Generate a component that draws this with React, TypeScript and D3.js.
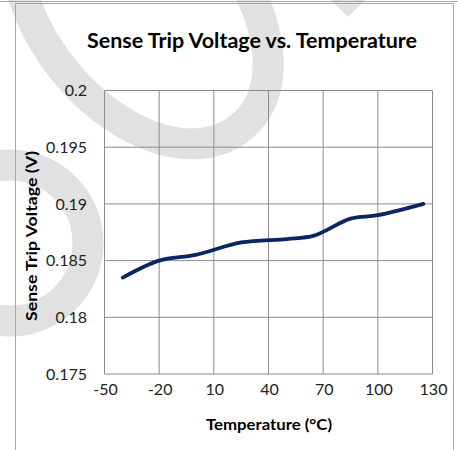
import React from 'react';
import {scaleLinear, line, curveCatmullRom} from 'd3';

// valeurs
const temperatures = [-40, -20, 0, 25, 50, 65, 85, 100, 125];
const tripVoltages = [0.1835, 0.185, 0.1855, 0.1866, 0.1869, 0.1872, 0.1887, 0.189, 0.19];

const xTicks = [-50, -20, 10, 40, 70, 100, 130];
const yTicks = [0.175, 0.18, 0.185, 0.19, 0.195, 0.2];
const yTickLabels = ['0.175', '0.18', '0.185', '0.19', '0.195', '0.2'];

const title = 'Sense Trip Voltage vs. Temperature';
const xTitle = 'Temperature (°C)';
const yTitle = 'Sense Trip Voltage (V)';

export default function App() {
  const width = 458;
  const height = 450;
  const plot = {left: 104.5, right: 432.5, top: 90.5, bottom: 374};

  const x = scaleLinear().domain([-50, 130]).range([plot.left, plot.right]);
  const y = scaleLinear().domain([0.175, 0.2]).range([plot.bottom, plot.top]);

  const points = temperatures.map((t, i) => [t, tripVoltages[i]] as [number, number]);
  const path = line<[number, number]>()
    .x(d => x(d[0]))
    .y(d => y(d[1]))
    .curve(curveCatmullRom.alpha(0.5))(points);

  const grid = '#8c8c8c';
  const font = 'Lato, "Open Sans", sans-serif';

  return (
    <div style={{position: 'absolute', left: 0, top: 0}}>
      <svg width={width} height={height} style={{display: 'block'}}>
        <rect width={width} height={height} fill="#fff" />

        {/* filigrane gris derriere le graphique */}
        <g fill="none" stroke="#e1e1e1" strokeWidth={31}>
          <path d="M22,-8 C60,115 200,190 255,112 C276,80 270,35 250,-8" />
          <circle cx={10} cy={243} r={78} />
        </g>
        <polygon points="331,0 365,0 348,17" fill="#e1e1e1" />

        {/* cadre */}
        <line x1={0} x2={width} y1={1.5} y2={1.5} stroke="#a6a6a6" />
        <path d={`M15.5,${height} V3.5 H453.5 V${height}`} fill="none" stroke="#a6a6a6" />

        {/* grille */}
        {xTicks.map(t => (
          <line key={'gx' + t} x1={x(t)} x2={x(t)} y1={plot.top} y2={plot.bottom} stroke={grid} strokeWidth={1} />
        ))}
        {yTicks.map(t => (
          <line key={'gy' + t} x1={plot.left} x2={plot.right} y1={y(t)} y2={y(t)} stroke={grid} strokeWidth={1} />
        ))}

        <path d={path || ''} fill="none" stroke="#0b2463" strokeWidth={3.8} strokeLinecap="round" strokeLinejoin="round" />

        {/* etiquettes */}
        <g fontFamily={font} fontSize={16} fill="#222">
          {yTicks.map((t, i) => (
            <text key={'ly' + t} x={87} y={y(t)} dy="0.36em" textAnchor="end">
              {yTickLabels[i]}
            </text>
          ))}
          {xTicks.map(t => (
            <text key={'lx' + t} x={x(t) + 1} y={395} textAnchor="middle">
              {t}
            </text>
          ))}
        </g>

        <text x={87} y={48} fontFamily={font} fontWeight="bold" fontSize={20} textLength={330} lengthAdjust="spacingAndGlyphs" fill="#000">
          {title}
        </text>
        <text x={206} y={430} fontFamily={font} fontWeight="bold" fontSize={16} textLength={126} lengthAdjust="spacingAndGlyphs" fill="#000">
          {xTitle}
        </text>
        <text
          transform="translate(37,321) rotate(-90)"
          fontFamily={font}
          fontWeight="bold"
          fontSize={15.5}
          textLength={170}
          lengthAdjust="spacingAndGlyphs"
          fill="#000"
        >
          {yTitle}
        </text>
      </svg>
    </div>
  );
}
